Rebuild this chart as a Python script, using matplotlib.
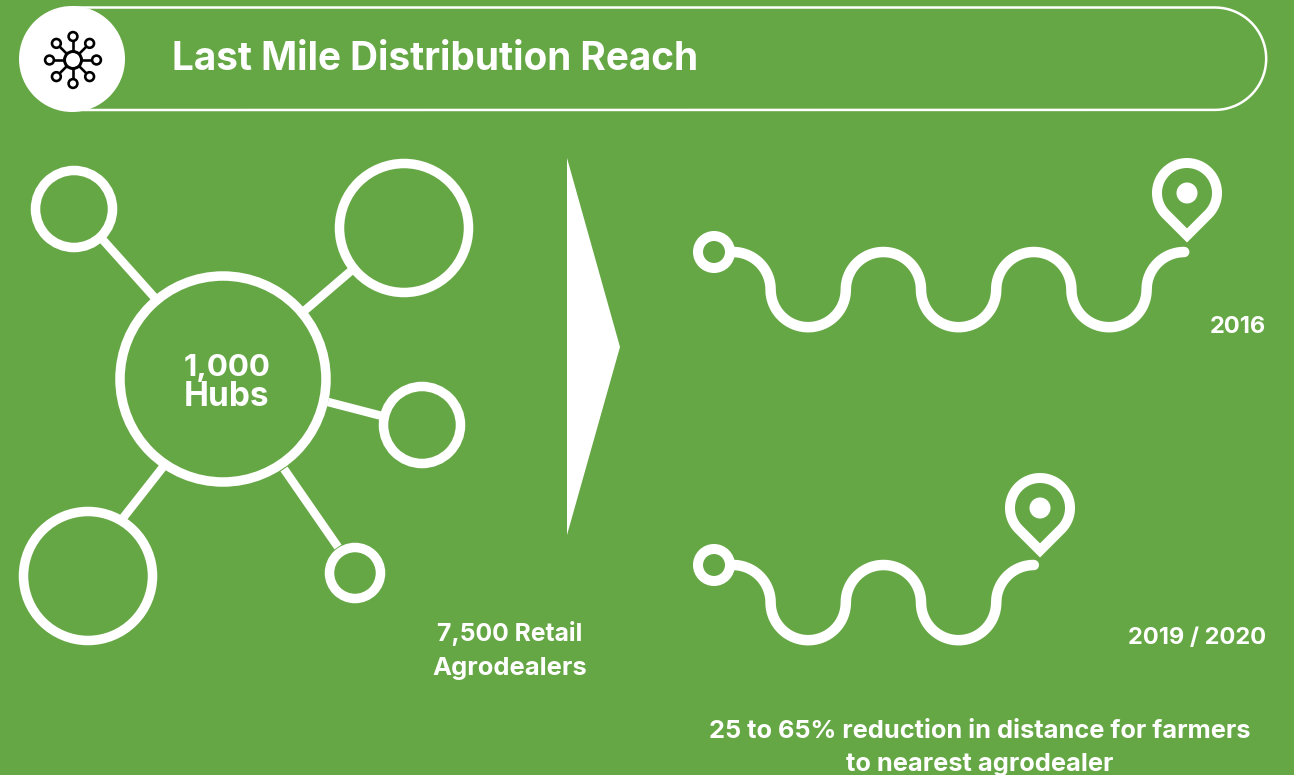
# -*- coding: utf-8 -*-
import matplotlib
matplotlib.use('Agg')
import matplotlib.pyplot as plt
import numpy as np
from matplotlib.patches import Circle, Polygon

GREEN = '#66a745'
WHITE = '#ffffff'
FONT = 'Inter'

TITLE = 'Last Mile Distribution Reach'
HUB_LABEL = ['1,000', 'Hubs']
RETAIL_LABEL = ['7,500 Retail', 'Agrodealers']
YEARS = ['2016', '2019 / 2020']
NOTE = ['25 to 65% reduction in distance for farmers', 'to nearest agrodealer']

# network drawing: x, y, radius of the outer nodes, in picture pixels
NODE_X = [74, 404, 422, 88, 355]
NODE_Y = [209, 228, 425, 576, 573]
NODE_R = [39, 65, 39, 65, 26]
SPOKES = [
    ((103, 240), (155, 298)),
    ((352, 270), (303, 312)),
    ((328, 402), (382, 416)),
    ((163, 467), (123, 518)),
    ((284, 469), (338, 547)),
]

# number of half waves on each road
ROAD_WAVES = [5, 3]
ROAD_Y = [252, 565]
PIN_X = [1187, 1040]
PIN_Y = [193, 508]


def px(n):
    return n * 0.72


def arc(cx, cy, r, a0, a1, n=40):
    t = np.radians(np.linspace(a0, a1, n))
    return cx + r * np.cos(t), cy + r * np.sin(t)


def draw_road(ax, y, waves):
    r = 37.6
    xs, ys = [731.0], [y]
    cx = 733.0
    x, yy = arc(cx, y + r, r, -90, 0)
    xs.extend(x)
    ys.extend(yy)
    cx += r
    for i in range(waves):
        cx += r
        # y axis is inverted, so positive angles point down
        if i % 2 == 0:
            x, yy = arc(cx, y + r, r, 180, 0)
        else:
            x, yy = arc(cx, y + r, r, 180, 360)
        xs.extend(x)
        ys.extend(yy)
        cx += r
    x, yy = arc(cx + r, y + r, r, 180, 270)
    xs.extend(x)
    ys.extend(yy)
    ax.plot(xs, ys, color=WHITE, lw=px(10.5), solid_capstyle='round', solid_joinstyle='round')
    ax.add_patch(Circle((714, y), 16, fill=False, ec=WHITE, lw=px(10)))


def draw_pin(ax, x, y):
    r = 30
    ax0, ay0 = arc(x, y, r, 45, -225, 80)
    xs = np.concatenate([[x], ax0, [x]])
    ys = np.concatenate([[y + r * np.sqrt(2)], ay0, [y + r * np.sqrt(2)]])
    ax.add_patch(Polygon(np.column_stack([xs, ys]), closed=True, fill=False, ec=WHITE,
                         lw=px(10), joinstyle='miter'))
    ax.add_patch(Circle((x, y), 10.5, color=WHITE, lw=0))


def draw_icon(ax, x, y):
    for a in range(0, 360, 45):
        c, s = np.cos(np.radians(a)), np.sin(np.radians(a))
        ax.plot([x + 8 * c, x + 19 * c], [y + 8 * s, y + 19 * s], color='black', lw=px(2.6), zorder=5)
        ax.add_patch(Circle((x + 23.5 * c, y + 23.5 * s), 4.4, fc=WHITE, ec='black', lw=px(2.6), zorder=6))
    ax.add_patch(Circle((x, y), 8.5, fc=WHITE, ec='black', lw=px(3), zorder=6))


def label(ax, x, y, s, size, ha='center'):
    ax.text(x, y, s, color=WHITE, fontsize=size, fontweight='bold', family=FONT, ha=ha, va='center')


fig = plt.figure(figsize=(12.94, 7.75), dpi=100, facecolor=GREEN)
ax = fig.add_axes([0, 0, 1, 1])
ax.set_xlim(0, 1294)
ax.set_ylim(775, 0)
ax.axis('off')

# header band
bx, by = arc(1215, 58.7, 51.2, -90, 90)
ax.plot(np.concatenate([[72], bx, [72]]), np.concatenate([[7.5], by, [110]]), color=WHITE, lw=px(2.5))
ax.add_patch(Circle((72, 59), 53, color=WHITE, lw=0, zorder=4))
draw_icon(ax, 73, 60)
label(ax, 172, 60, TITLE, 27.9, ha='left')

# hub and nodes
ax.add_patch(Circle((223, 379), 103, fill=False, ec=WHITE, lw=px(9.5)))
for x, y, r in zip(NODE_X, NODE_Y, NODE_R):
    ax.add_patch(Circle((x, y), r - 0.5, fill=False, ec=WHITE, lw=px(9.5)))
for a, b in SPOKES:
    ax.plot([a[0], b[0]], [a[1], b[1]], color=WHITE, lw=px(8.5), solid_capstyle='butt')
label(ax, 227, 368, HUB_LABEL[0], 22.5)
label(ax, 227, 397, HUB_LABEL[1], 24)
label(ax, 510, 634, RETAIL_LABEL[0], 17.8)
label(ax, 510, 668, RETAIL_LABEL[1], 18.4)

# arrow
ax.add_patch(Polygon([(567, 158), (620, 347), (567, 535)], closed=True, color=WHITE, lw=0))

# roads
for y, waves, pin_x, pin_y, year, ty in zip(ROAD_Y, ROAD_WAVES, PIN_X, PIN_Y, YEARS, [327, 638]):
    draw_road(ax, y, waves)
    draw_pin(ax, pin_x, pin_y)
    label(ax, 1266, ty, year, 17, ha='right')

label(ax, 980, 731, NOTE[0], 18.3)
label(ax, 980, 765, NOTE[1], 18.3)

fig.savefig('out.png', dpi=100, facecolor=GREEN)
plt.close(fig)
